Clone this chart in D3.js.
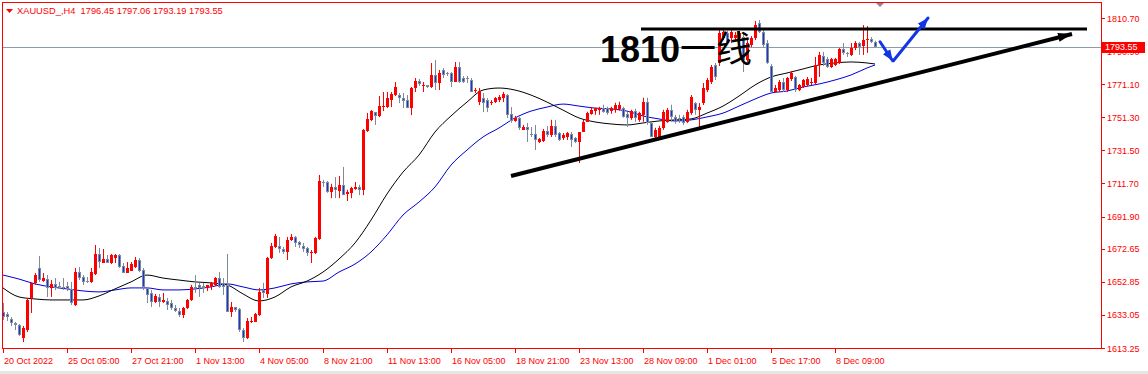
<!DOCTYPE html>
<html>
<head>
<meta charset="utf-8">
<script src="https://cdn.jsdelivr.net/npm/d3@7"></script>
<style>
  body { margin: 0; background: #fff; }
  svg { display: block; }
  text { font-family: "Liberation Sans", Arial, sans-serif; }
</style>
</head>
<body>
<svg id="chart" width="1148" height="374"></svg>
<script>
// XAUUSD H4 bars, 20 Oct 2022 -> 9 Dec 2022
const opens = [1634.8,1633.6,1630.6,1628.2,1627.0,1619.2,1624.0,1643.2,1652.2,1661.1,
  1653.3,1654.5,1649.2,1651.6,1650.4,1649.8,1650.4,1648.6,1639.0,1658.7,
  1655.7,1653.3,1652.8,1657.5,1669.5,1664.1,1666.5,1664.1,1667.1,1668.9,
  1662.3,1658.1,1659.3,1661.7,1665.9,1659.9,1649.2,1646.2,1640.8,1643.8,
  1640.8,1641.4,1640.2,1637.2,1635.4,1633.0,1637.2,1642.0,1649.8,1651.0,
  1650.4,1649.2,1649.8,1651.0,1655.1,1652.2,1651.0,1634.8,1637.8,1636.6,
  1624.0,1619.2,1628.8,1628.8,1633.0,1648.0,1645.6,1667.1,1673.7,1674.3,
  1672.5,1670.7,1677.9,1679.7,1676.7,1674.3,1673.1,1670.1,1670.1,1678.5,
  1712.6,1712.6,1706.7,1709.7,1707.3,1710.9,1705.3,1705.9,1708.5,1709.7,
  1707.9,1743.1,1749.6,1754.4,1752.0,1757.4,1757.4,1761.6,1764.6,1764.6,
  1762.8,1761.6,1756.8,1768.8,1773.0,1770.0,1770.6,1769.4,1776.6,1771.8,
  1779.6,1777.8,1777.8,1772.4,1781.4,1774.8,1774.8,1773.6,1767.4,1760.4,
  1762.8,1761.6,1759.8,1760.4,1761.6,1762.8,1764.6,1753.3,1749.2,1751.0,
  1743.7,1745.5,1741.3,1741.3,1736.5,1737.1,1743.1,1740.7,1746.1,1741.9,
  1738.9,1739.5,1741.3,1738.9,1736.5,1742.5,1748.6,1753.4,1755.2,1755.8,
  1757.0,1757.0,1755.2,1755.8,1756.4,1757.0,1753.4,1751.0,1755.2,1749.8,
  1752.8,1760.6,1748.0,1739.6,1739.6,1745.0,1748.5,1755.8,1751.6,1751.0,
  1751.6,1748.6,1754.0,1759.8,1755.8,1759.8,1767.6,1772.4,1782.6,1783.8,
  1798.7,1801.7,1798.7,1798.7,1798.7,1799.3,1785.6,1794.5,1798.7,1807.7,
  1802.3,1795.7,1782.0,1766.4,1767.6,1772.4,1767.6,1774.2,1775.4,1767.6,
  1769.4,1770.6,1771.8,1771.8,1782.6,1788.0,1786.2,1781.4,1782.6,1783.8,
  1792.1,1789.8,1788.6,1792.7,1795.7,1794.0,1797.5,1798.1,1796.45];
const highs = [1640.2,1634.8,1631.8,1628.8,1627.6,1626.4,1643.2,1652.1,1658.1,1668.3,
  1658.1,1656.9,1653.9,1655.1,1652.8,1655.1,1652.8,1652.8,1661.1,1661.7,
  1656.9,1655.7,1661.1,1674.9,1673.1,1672.5,1668.9,1669.5,1669.5,1669.5,
  1664.1,1664.7,1664.7,1667.7,1667.1,1661.1,1649.8,1647.9,1645.6,1645.6,
  1646.2,1643.2,1642.0,1639.0,1637.2,1637.8,1642.6,1651.0,1656.9,1652.2,
  1652.2,1651.0,1652.8,1655.7,1658.7,1655.1,1669.5,1640.8,1637.8,1637.2,
  1625.2,1631.2,1631.8,1634.2,1649.2,1652.2,1667.7,1676.1,1681.5,1679.7,
  1673.7,1679.7,1681.5,1680.3,1677.3,1676.1,1673.7,1671.9,1679.7,1716.8,
  1713.8,1713.2,1711.5,1715.5,1716.1,1721.6,1707.9,1709.7,1712.6,1710.9,
  1744.3,1753.9,1755.6,1754.4,1764.0,1766.4,1766.4,1766.4,1772.4,1765.8,
  1765.8,1764.6,1769.4,1774.8,1774.2,1772.4,1770.6,1783.8,1785.6,1779.6,
  1780.8,1778.4,1778.4,1784.4,1784.4,1776.0,1776.0,1774.8,1768.8,1768.8,
  1765.8,1762.8,1761.6,1763.4,1764.6,1766.4,1765.2,1757.4,1752.1,1751.6,
  1746.7,1747.9,1745.5,1746.7,1738.9,1744.3,1746.1,1749.8,1749.8,1742.5,
  1741.9,1742.5,1742.5,1739.5,1742.5,1749.8,1754.6,1757.4,1757.0,1757.6,
  1758.8,1757.6,1757.6,1760.0,1760.6,1757.6,1754.6,1755.8,1756.4,1754.6,
  1763.0,1763.0,1748.6,1745.0,1746.2,1755.8,1756.8,1758.8,1752.8,1752.8,
  1752.8,1755.8,1764.6,1760.4,1759.8,1771.8,1774.8,1782.6,1783.8,1803.5,
  1803.5,1802.9,1803.5,1802.3,1802.9,1801.7,1797.5,1799.9,1808.9,1809.5,
  1803.5,1797.5,1783.2,1770.6,1773.6,1774.8,1775.4,1779.0,1776.0,1771.2,
  1774.2,1775.4,1774.8,1787.4,1790.4,1790.4,1787.4,1786.8,1786.8,1792.7,
  1795.7,1790.4,1795.7,1796.9,1796.3,1806.5,1805.9,1799.3,1797.06];
const lows = [1630.0,1629.4,1626.4,1624.0,1620.4,1616.8,1622.8,1634.2,1651.0,1652.8,
  1652.8,1643.8,1643.8,1647.9,1649.2,1647.9,1647.3,1639.0,1638.4,1653.9,
  1651.0,1652.2,1652.2,1656.9,1661.1,1664.1,1664.1,1663.5,1664.1,1661.1,
  1658.1,1658.1,1659.3,1661.1,1658.7,1647.9,1640.2,1637.8,1640.2,1637.8,
  1640.2,1636.0,1636.0,1634.8,1631.8,1631.2,1636.6,1641.4,1646.2,1643.8,
  1646.2,1647.3,1647.9,1650.4,1649.2,1645.0,1634.8,1631.8,1634.8,1622.8,
  1616.8,1618.6,1628.2,1628.8,1632.4,1643.2,1643.2,1666.5,1673.1,1670.1,
  1669.5,1665.9,1677.3,1673.7,1673.1,1670.7,1668.3,1664.1,1669.5,1677.9,
  1709.6,1706.1,1702.9,1702.9,1702.9,1704.7,1701.2,1702.9,1707.9,1704.7,
  1704.7,1742.5,1749.0,1746.7,1751.4,1755.0,1756.8,1757.4,1764.0,1759.8,
  1756.8,1756.8,1752.6,1766.4,1770.0,1766.4,1768.8,1768.8,1767.6,1767.6,
  1774.8,1776.0,1769.4,1772.4,1771.8,1771.8,1771.8,1766.4,1765.8,1758.6,
  1754.4,1754.4,1758.6,1759.8,1760.4,1760.4,1750.9,1748.0,1748.6,1743.7,
  1743.7,1736.5,1739.5,1731.7,1735.9,1736.5,1739.5,1739.5,1739.5,1737.1,
  1737.7,1737.7,1733.5,1735.9,1723.9,1742.5,1748.6,1752.8,1752.8,1752.8,
  1754.0,1752.8,1753.4,1754.0,1755.2,1751.0,1745.5,1749.8,1748.6,1748.6,
  1748.6,1746.8,1739.6,1739.0,1739.0,1743.8,1748.0,1748.6,1747.4,1747.9,
  1746.7,1747.9,1752.8,1752.8,1743.7,1758.6,1766.4,1771.2,1773.6,1782.0,
  1797.5,1795.1,1795.7,1797.5,1797.5,1778.4,1784.4,1793.3,1797.5,1801.7,
  1793.3,1783.2,1765.8,1765.8,1766.4,1766.4,1766.4,1773.0,1766.4,1767.0,
  1768.8,1770.0,1770.6,1771.2,1775.4,1782.0,1780.8,1780.8,1782.0,1783.2,
  1788.6,1787.4,1788.0,1791.5,1788.6,1788.6,1789.8,1795.7,1793.19];
const closes = [1631.8,1631.8,1628.2,1627.0,1621.0,1625.2,1642.0,1652.1,1656.9,1653.9,
  1655.1,1649.2,1651.6,1649.2,1649.8,1649.6,1648.6,1640.2,1658.7,1655.1,
  1652.8,1653.2,1658.7,1669.5,1664.7,1666.5,1664.1,1668.9,1668.9,1661.7,
  1658.1,1661.1,1663.5,1665.9,1659.3,1649.8,1645.0,1640.8,1644.4,1640.8,
  1642.0,1639.0,1637.2,1635.4,1633.0,1637.2,1642.0,1649.8,1649.6,1649.2,
  1649.2,1651.0,1652.2,1655.1,1649.8,1649.8,1634.8,1637.8,1636.0,1624.0,
  1619.2,1629.4,1629.4,1633.6,1646.8,1646.2,1667.1,1674.3,1680.3,1672.5,
  1670.7,1677.9,1679.7,1676.1,1674.9,1672.5,1670.1,1670.7,1679.1,1713.2,
  1712.5,1706.7,1709.7,1707.9,1710.9,1704.7,1706.5,1709.1,1709.7,1707.9,
  1743.7,1750.2,1755.0,1752.0,1758.0,1758.0,1762.8,1765.2,1769.4,1762.8,
  1761.0,1756.8,1768.8,1773.0,1771.2,1770.6,1769.4,1776.6,1771.8,1777.8,
  1776.6,1777.6,1772.4,1781.4,1772.4,1772.4,1774.6,1766.4,1767.6,1767.0,
  1759.8,1756.8,1760.4,1762.8,1763.4,1765.2,1752.8,1749.2,1751.0,1744.9,
  1745.5,1743.7,1741.1,1737.7,1738.3,1743.1,1740.7,1746.1,1740.7,1737.7,
  1740.7,1741.9,1737.7,1736.5,1742.5,1748.6,1754.0,1755.8,1757.0,1757.0,
  1754.6,1754.0,1757.0,1758.8,1758.8,1751.6,1751.0,1755.2,1751.0,1754.0,
  1760.6,1748.0,1739.6,1743.8,1745.0,1754.6,1755.8,1751.6,1748.6,1750.8,
  1747.9,1754.6,1763.4,1755.8,1757.6,1768.8,1773.6,1781.4,1775.4,1801.7,
  1802.3,1796.3,1802.3,1800.5,1801.7,1785.6,1795.7,1798.7,1806.5,1802.3,
  1794.5,1783.8,1766.4,1768.8,1772.4,1767.6,1774.8,1777.8,1767.6,1770.6,
  1773.6,1774.2,1772.4,1782.6,1788.6,1783.8,1781.4,1786.2,1786.2,1792.1,
  1789.8,1789.6,1792.7,1795.7,1793.3,1797.5,1798.1,1796.3,1793.55];

// moving averages, read every 4th bar (last point = last bar)
const maBars = d3.range(0, 217, 4).concat([218]);
const maBlack = [1649.2,1643.8,1642.6,1642.0,1642.0,1642.0,1644.4,1648.6,1652.8,1656.9,
  1655.1,1653.9,1652.8,1652.2,1651.0,1645.6,1641.4,1643.8,1649.8,1653.3,
  1658.7,1666.5,1676.1,1689.8,1705.4,1718.5,1728.7,1742.5,1752.1,1760.4,
  1767.6,1768.8,1767.6,1764.6,1760.4,1755.6,1750.9,1748.5,1747.3,1746.7,
  1747.9,1749.1,1749.7,1750.3,1753.8,1758.0,1764.0,1770.6,1775.4,1777.8,
  1780.2,1782.6,1783.8,1784.4,1783.8,1783.2];
const maBlue = [1656.9,1654.5,1651.6,1649.8,1648.6,1647.4,1646.8,1648.0,1649.2,1649.2,
  1648.0,1648.0,1648.6,1649.8,1651.6,1649.8,1648.0,1649.2,1651.6,1652.8,
  1653.3,1658.7,1663.5,1670.7,1680.9,1692.8,1700.6,1709.6,1722.7,1731.7,
  1739.5,1744.9,1750.9,1755.0,1757.4,1759.2,1758.0,1756.8,1756.3,1755.0,
  1752.1,1750.3,1749.1,1749.7,1751.5,1753.8,1758.0,1762.2,1765.8,1767.0,
  1769.4,1771.2,1773.6,1776.6,1780.8,1782.6];

const priceTicks = [1810.70, 1790.90, 1771.10, 1751.30, 1731.50, 1711.70, 1691.90, 1672.65, 1652.85, 1633.05, 1613.25];
const timeBars = [0, 16, 32, 48, 64, 80, 96, 112, 128, 144, 160, 176, 192, 208];
const timeLabels = ["20 Oct 2022", "25 Oct 05:00", "27 Oct 21:00", "1 Nov 13:00", "4 Nov 05:00",
  "8 Nov 21:00", "11 Nov 13:00", "16 Nov 05:00", "18 Nov 21:00", "23 Nov 13:00",
  "28 Nov 09:00", "1 Dec 01:00", "5 Dec 17:00", "8 Dec 09:00"];

const symbolName = "XAUUSD_,H4";
const lastBar = 218;

// hand-drawn objects on the chart (bar index, price)
const levelLine = [[159.5, 1804.1], [271, 1804.1]];
const trendLine = [[127, 1716.2], [267.25, 1801.1]];
const checkDown = [[219.25, 1796.5], [222.4, 1785.1]];
const checkUp = [[222.6, 1785.1], [231.25, 1810.7]];
const noteAt = [149.25, 1784.4];
const noteNum = "1810", noteCn = "一线";
const shiftBar = 219.25;

const svg = d3.select("#chart"),
  width = +svg.attr("width"),
  height = +svg.attr("height");

const plotL = 2, plotR = 1101, plotT = 2, plotB = 348;

const x = d3.scaleLinear().domain([0, 274.5]).range([3, 1101]);
const y = d3.scaleLinear().domain([1613.25, 1810.70]).range([348, 18]);

const RED = "#ff0000", BLUE = "#1e32d2", GRAY = "#7b8b9b";

// bottom strip
svg.append("rect").attr("x", 0).attr("y", 371).attr("width", width).attr("height", 3).attr("fill", "#e6e6e6");

// current price line
const lastY = Math.round(y(closes[lastBar])) + 0.5;
svg.append("line")
  .attr("x1", plotL).attr("x2", plotR)
  .attr("y1", lastY).attr("y2", lastY)
  .attr("stroke", "#8e9bab").attr("stroke-width", 1);

// moving averages
const maLine = d3.line()
  .x((d, i) => x(maBars[i]))
  .y(d => y(d))
  .curve(d3.curveMonotoneX);

svg.append("path").datum(maBlue).attr("d", maLine)
  .attr("fill", "none").attr("stroke", "#0000d8").attr("stroke-width", 1);
svg.append("path").datum(maBlack).attr("d", maLine)
  .attr("fill", "none").attr("stroke", "#000").attr("stroke-width", 1);

// candles
const bars = opens.map((o, i) => ({
  i: i, o: o, c: closes[i],
  h: Math.max(highs[i], o, closes[i]),
  l: Math.min(lows[i], o, closes[i])
}));

const candle = svg.append("g").attr("class", "candles")
  .selectAll("g").data(bars).enter().append("g");

candle.append("line")
  .attr("x1", d => Math.round(x(d.i)) + 0.5)
  .attr("x2", d => Math.round(x(d.i)) + 0.5)
  .attr("y1", d => y(d.h))
  .attr("y2", d => y(d.l))
  .attr("stroke", d => d.c > d.o ? RED : GRAY)
  .attr("stroke-width", 1);

candle.each(function (d) {
  const g = d3.select(this);
  const cx = Math.round(x(d.i));
  const t = Math.round(y(Math.max(d.o, d.c)));
  const b = Math.round(y(Math.min(d.o, d.c)));
  const h = Math.max(1, b - t);
  if (d.c > d.o) {
    g.append("rect").attr("x", cx - 1).attr("y", t).attr("width", 3).attr("height", h).attr("fill", RED);
  } else {
    g.append("rect").attr("x", cx - 1).attr("y", t).attr("width", 3).attr("height", h).attr("fill", GRAY);
    if (h > 2) {
      g.append("rect").attr("x", cx).attr("y", t + 1).attr("width", 1).attr("height", h - 2).attr("fill", BLUE);
    }
  }
});

// drawn objects
const pt = d => [x(d[0]), y(d[1])];
const defs = svg.append("defs");
function arrowMarker(id, color, len, wid) {
  defs.append("marker")
    .attr("id", id)
    .attr("markerUnits", "userSpaceOnUse")
    .attr("viewBox", `0 0 ${len} ${wid}`)
    .attr("refX", len).attr("refY", wid / 2)
    .attr("markerWidth", len).attr("markerHeight", wid)
    .attr("orient", "auto")
    .append("path")
    .attr("d", `M0,0L${len},${wid / 2}L0,${wid}Z`)
    .attr("fill", color);
}
arrowMarker("arrBlack", "#000", 14, 9);
arrowMarker("arrBlue", "#1236e6", 11, 9);

svg.append("path")
  .attr("d", d3.line()(levelLine.map(pt)))
  .attr("stroke", "#000").attr("stroke-width", 3).attr("fill", "none");

svg.append("path")
  .attr("d", d3.line()(trendLine.map(pt)))
  .attr("stroke", "#000").attr("stroke-width", 4).attr("fill", "none")
  .attr("marker-end", "url(#arrBlack)");

[checkDown, checkUp].forEach(seg => {
  svg.append("path")
    .attr("d", d3.line()(seg.map(pt)))
    .attr("stroke", "#1236e6").attr("stroke-width", 3).attr("fill", "none")
    .attr("stroke-linecap", "round")
    .attr("marker-end", "url(#arrBlue)");
});

const note = svg.append("text")
  .attr("x", x(noteAt[0])).attr("y", y(noteAt[1]))
  .attr("font-size", 36).attr("fill", "#000");
note.append("tspan").attr("font-weight", "bold").text(noteNum);
note.append("tspan").style("font-family", "'Noto Sans CJK SC', sans-serif").attr("font-weight", 400).text(noteCn);

// chart shift marker
const sx = Math.round(x(shiftBar));
svg.append("path").attr("d", `M${sx - 4},3L${sx + 4},3L${sx},7Z`).attr("fill", GRAY);

// frame
svg.append("rect")
  .attr("x", plotL + 0.5).attr("y", plotT + 0.5)
  .attr("width", plotR - plotL).attr("height", plotB - plotT)
  .attr("fill", "none").attr("stroke", RED).attr("stroke-width", 1);

// price axis
const pAxis = svg.append("g").attr("class", "price-axis");
pAxis.selectAll("line").data(priceTicks).enter().append("line")
  .attr("x1", plotR + 1).attr("x2", plotR + 4)
  .attr("y1", d => Math.round(y(d)) + 0.5).attr("y2", d => Math.round(y(d)) + 0.5)
  .attr("stroke", RED);
pAxis.selectAll("text").data(priceTicks).enter().append("text")
  .attr("x", 1107).attr("y", d => y(d) + 3.5)
  .attr("font-size", 9).attr("fill", RED)
  .text(d => d.toFixed(2));

// last price tag (covers the tick label below it, as in the terminal)
const ly = y(closes[lastBar]);
svg.append("rect").attr("x", plotR + 1).attr("y", Math.round(ly) - 5).attr("width", 43).attr("height", 11).attr("fill", RED);
svg.append("text").attr("x", 1105).attr("y", ly + 3.5)
  .attr("font-size", 9).attr("fill", "#fff")
  .text(closes[lastBar].toFixed(2));

// time axis
const tAxis = svg.append("g").attr("class", "time-axis");
tAxis.selectAll("line").data(timeBars).enter().append("line")
  .attr("x1", d => Math.round(x(d)) + 0.5).attr("x2", d => Math.round(x(d)) + 0.5)
  .attr("y1", plotB + 1).attr("y2", plotB + 5)
  .attr("stroke", RED);
tAxis.selectAll("text").data(timeBars).enter().append("text")
  .attr("x", d => Math.round(x(d)) + 1).attr("y", 364)
  .attr("font-size", 9).attr("fill", RED)
  .text((d, i) => timeLabels[i]);

// title
svg.append("path").attr("d", "M6,9L13,9L9.5,13Z").attr("fill", RED);
svg.append("text").attr("x", 17).attr("y", 14)
  .attr("font-size", 9.3).attr("fill", RED)
  .style("white-space", "pre")
  .text(`${symbolName}  ${opens[lastBar].toFixed(2)} ${highs[lastBar].toFixed(2)} ${lows[lastBar].toFixed(2)} ${closes[lastBar].toFixed(2)}`);
</script>
</body>
</html>
